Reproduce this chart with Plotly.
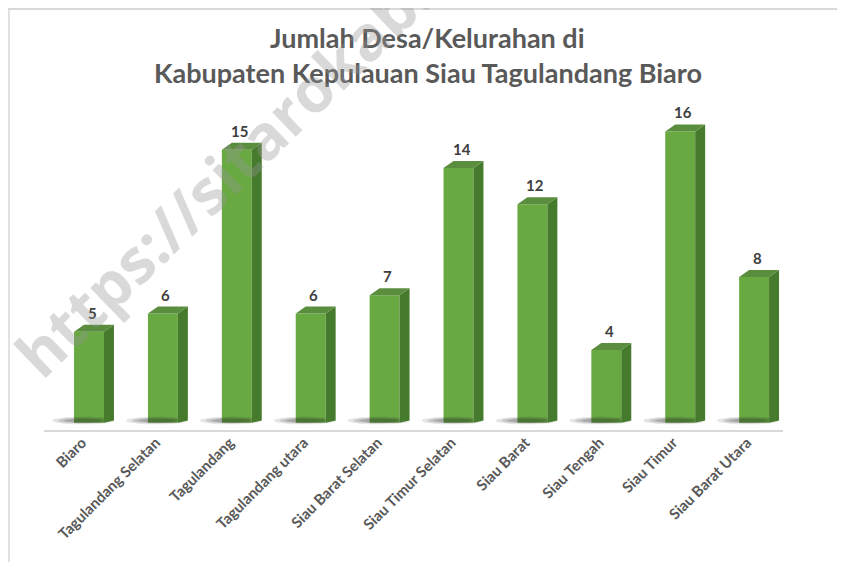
import plotly.graph_objects as go
import numpy as np

categories = ["Biaro", "Tagulandang Selatan", "Tagulandang", "Tagulandang utara",
              "Siau Barat Selatan", "Siau Timur Selatan", "Siau Barat", "Siau Tengah",
              "Siau Timur", "Siau Barat Utara"]
values = [5, 6, 15, 6, 7, 14, 12, 4, 16, 8]
title_lines = ["Jumlah Desa/Kelurahan di", "Kabupaten Kepulauan Siau Tagulandang Biaro"]
watermark = "https://sitarokab.bps.go.id"

FRONT = "#68a942"
SIDE = "#467a2c"
TOP = "#5a8d3d"
BW = 0.405      # bar width (category units)
DX = 0.135      # depth offset x (category units)
DY = 0.385      # depth offset y (value units)

xs = list(range(len(categories)))
fig = go.Figure()

# floor shadows
for i, v in zip(xs, values):
    for rx, ry, op in [(0.42, 0.22, 0.12), (0.34, 0.16, 0.16), (0.26, 0.11, 0.2)]:
        t = np.linspace(0, 2 * np.pi, 60)
        cx = i - 0.08
        fig.add_trace(go.Scatter(
            x=cx + rx * np.cos(t), y=0.12 + ry * np.sin(t), mode="lines", fill="toself",
            line=dict(width=0), fillcolor=f"rgba(40,40,40,{op})", hoverinfo="skip", showlegend=False))

# front faces
fig.add_trace(go.Bar(x=xs, y=values, width=BW, marker=dict(color=FRONT, line=dict(width=0)),
                     showlegend=False, hoverinfo="x+y"))

# side and top faces
for i, v in zip(xs, values):
    xr = i + BW / 2
    xl = i - BW / 2
    fig.add_trace(go.Scatter(
        x=[xr, xr + DX, xr + DX, xr, xr], y=[0, DY * 0.3, v + DY, v, 0], mode="lines",
        fill="toself", fillcolor=SIDE, line=dict(width=0), hoverinfo="skip", showlegend=False))
    fig.add_trace(go.Scatter(
        x=[xl, xr, xr + DX, xl + DX, xl], y=[v, v, v + DY, v + DY, v], mode="lines",
        fill="toself", fillcolor=TOP, line=dict(width=0), hoverinfo="skip", showlegend=False))

# data labels
for i, v in zip(xs, values):
    fig.add_annotation(x=i + DX * 0.3, y=v + DY, text=f"<b>{v}</b>", showarrow=False,
                       yanchor="bottom", yshift=1,
                       font=dict(family="Lato, Open Sans, sans-serif", size=15, color="#404040"))

# title
fig.add_annotation(xref="paper", yref="paper", x=0.519, y=1.228, text=f"<b>{title_lines[0]}</b>",
                   showarrow=False, xanchor="center", yanchor="middle",
                   font=dict(family="Lato, sans-serif", size=27, color="#595959"))
fig.add_annotation(xref="paper", yref="paper", x=0.519, y=1.118, text=f"<b>{title_lines[1]}</b>",
                   showarrow=False, xanchor="center", yanchor="middle",
                   font=dict(family="Lato, sans-serif", size=27, color="#595959"))

# watermark
fig.add_annotation(xref="paper", yref="paper", x=0.376, y=1.10, text=f"<b>{watermark}</b>",
                   showarrow=False, textangle=-44, xanchor="center", yanchor="middle",
                   font=dict(family="Open Sans, sans-serif", size=62, weight=800,
                             color="rgba(150,150,150,0.36)"))

# frame lines
fig.add_shape(type="line", xref="paper", yref="paper", x0=-0.06, x1=1.2, y0=1.3156, y1=1.3156,
              line=dict(color="#d9d9d9", width=2))
fig.add_shape(type="line", xref="paper", yref="paper", x0=-0.0474, x1=-0.0474, y0=1.32, y1=-0.5,
              line=dict(color="#d9d9d9", width=1.5))

fig.update_layout(
    width=845, height=562,
    margin=dict(l=36, r=70, t=102, b=140, autoexpand=False),
    paper_bgcolor="white", plot_bgcolor="white",
    bargap=0.5,
    xaxis=dict(range=[-0.609, 9.391], tickvals=xs, ticktext=categories, tickangle=-45,
               automargin=False, ticklabelshift=-7, ticklabelstandoff=-4,
               showgrid=False, zeroline=False, showline=True, linecolor="#d9d9d9", linewidth=2,
               ticks="", tickfont=dict(family="Lato, sans-serif", size=15, weight="bold",
                                       color="#595959")),
    yaxis=dict(range=[-0.4, 17.18], visible=False, showgrid=False, zeroline=False,
               automargin=False),
)

fig.write_html("out.html")
